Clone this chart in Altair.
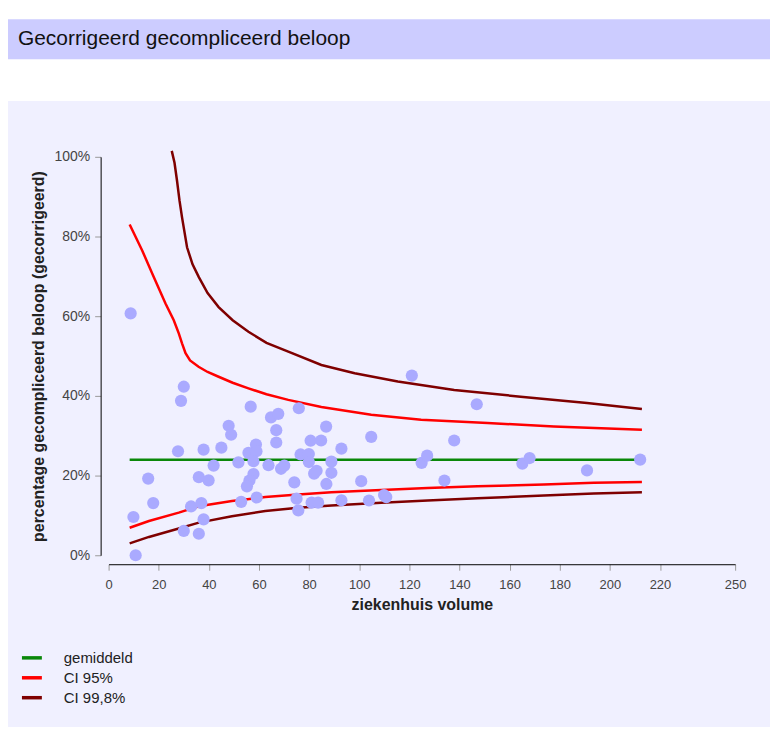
import altair as alt
import pandas as pd

# ---------------- data ----------------
title_text = "Gecorrigeerd gecompliceerd beloop"
x_title = "ziekenhuis volume"
y_title = "percentage gecompliceerd beloop (gecorrigeerd)"
x_ticks = [0, 20, 40, 60, 80, 100, 120, 140, 160, 180, 200, 220, 250]
y_ticks = [0, 0.2, 0.4, 0.6, 0.8, 1.0]

series_names = ["gemiddeld", "CI 95%", "CI 99,8%"]
series_colors = ["#0a870a", "#ff0000", "#7f0000"]

mean_x = [8.4, 212.8]
mean_y = [24.0, 24.0]

ci95_up_x = [8.4, 13.4, 17.4, 22.7, 26.0, 28.0, 29.3, 30.7, 32.5, 35.9, 39.5, 43.9,
             49.5, 55.8, 63.0, 71.7, 84.9, 104.8, 124.7, 151.2, 177.7, 212.8]
ci95_up_y = [83.0, 76.5, 70.7, 63.2, 59.0, 55.7, 53.2, 50.7, 48.9, 47.3, 46.0, 44.8,
             43.3, 41.9, 40.4, 39.0, 37.2, 35.25, 34.0, 33.2, 32.3, 31.5]

ci95_lo_x = [8.4, 16.1, 28.0, 36.0, 49.2, 62.5, 75.7, 88.9, 108.8, 127.3, 147.2,
             173.7, 193.6, 212.8]
ci95_lo_y = [6.9, 8.6, 10.7, 12.3, 13.6, 14.6, 15.25, 15.8, 16.4, 16.9, 17.3,
             17.75, 18.2, 18.4]

ci998_up_x = [25.2, 26.3, 27.3, 28.3, 29.3, 31.3, 33.5, 36.0, 39.5, 43.9, 49.5, 55.8,
              63.0, 71.7, 84.9, 98.2, 115.4, 137.9, 164.4, 190.9, 212.8]
ci998_up_y = [101.5, 98.5, 94.0, 89.0, 84.8, 77.3, 73.0, 69.8, 65.8, 62.3, 59.0, 56.1,
              53.3, 51.1, 47.75, 45.7, 43.6, 41.5, 39.8, 38.2, 36.7]

ci998_lo_x = [8.4, 16.1, 28.0, 36.0, 49.2, 62.5, 75.7, 88.9, 108.8, 127.3, 147.2,
              173.7, 193.6, 212.8]
ci998_lo_y = [3.0, 4.6, 6.7, 8.2, 9.8, 11.1, 11.9, 12.5, 13.2, 13.75, 14.3,
              15.0, 15.5, 15.8]

hosp_volume = [8.8, 30.0, 28.9, 27.7, 15.8, 17.8, 9.9, 10.8, 32.9, 30.0, 36.0,
               56.7, 75.9, 64.8, 67.7, 47.9, 48.9, 66.9, 86.8, 66.9, 80.6, 84.8,
               92.9, 37.9, 45.0, 58.8, 55.8, 59.0, 57.8, 51.8, 41.9, 63.8, 68.8,
               70.1, 76.6, 79.9, 79.9, 88.9, 82.0, 83.0, 88.9, 57.8, 56.2, 55.2,
               36.0, 39.9, 74.1, 86.9, 37.0, 37.9, 52.9, 59.1, 75.0, 75.7, 81.0,
               83.6, 92.9, 121.0, 146.9, 104.8, 137.9, 100.8, 124.9, 127.1, 134.0,
               165.1, 168.0, 190.9, 212.1, 103.9, 109.9, 110.8]
hosp_pct = [60.7, 42.3, 38.75, 26.1, 19.25, 13.1, 9.6, 0.0, 12.25, 6.1, 5.4,
            37.3, 36.9, 34.6, 35.5, 32.5, 30.25, 31.4, 32.3, 28.3, 28.75, 28.8,
            26.75, 26.5, 27.0, 27.8, 25.7, 26.1, 23.6, 23.3, 22.5, 22.6, 21.7,
            22.5, 25.3, 25.4, 23.4, 23.5, 20.5, 21.2, 20.7, 20.4, 18.75, 17.3,
            19.6, 18.8, 18.3, 17.9, 13.1, 9.0, 13.4, 14.5, 14.2, 11.25, 13.2,
            13.2, 13.8, 45.1, 37.9, 29.7, 28.8, 18.6, 23.2, 25.0, 18.75,
            23.0, 24.4, 21.3, 24.0, 13.75, 15.1, 14.6]

# ---------------- tables ----------------
def part(name, bound, xs, ys):
    return pd.DataFrame({"volume": xs, "pct": [v / 100 for v in ys],
                         "series": name, "line": name + "-" + bound})

lines_df = pd.concat([
    part(series_names[0], "m", mean_x, mean_y),
    part(series_names[1], "up", ci95_up_x, ci95_up_y),
    part(series_names[1], "lo", ci95_lo_x, ci95_lo_y),
    part(series_names[2], "up", ci998_up_x, ci998_up_y),
    part(series_names[2], "lo", ci998_lo_x, ci998_lo_y),
], ignore_index=True)

points_df = pd.DataFrame({"volume": hosp_volume, "pct": [v / 100 for v in hosp_pct]})
one = pd.DataFrame({"k": [0]})

# ---------------- chart ----------------
xs = alt.Scale(domain=[0, 250], nice=False, zero=False)
ys = alt.Scale(domain=[0, 1], nice=False)

x_axis = alt.Axis(values=x_ticks, title=x_title, grid=False, offset=9, zindex=1,
                  domainColor="#000000", tickColor="#999999", tickSize=6,
                  labelFont="Liberation Sans", labelFontSize=13, labelColor="#444444",
                  labelPadding=8, titleFont="Liberation Sans", titleFontSize=16,
                  titleFontWeight="bold", titleColor="#222222", titlePadding=5,
                  labelFlush=False)
y_axis = alt.Axis(values=y_ticks, format="%", title=y_title, grid=False, offset=8,
                  zindex=1,
                  domainColor="#000000", tickColor="#999999", tickSize=6,
                  labelFont="Liberation Sans", labelFontSize=14, labelColor="#444444",
                  labelPadding=5, titleFont="Liberation Sans", titleFontSize=16,
                  titleFontWeight="bold", titleColor="#222222", titlePadding=8,
                  labelFlush=False)

panel = alt.Chart(one).mark_rect(color="#f0f0ff").encode(
    x=alt.value(-101), x2=alt.value(664), y=alt.value(-56), y2=alt.value(590))
bar = alt.Chart(one).mark_rect(color="#ccccff").encode(
    x=alt.value(-101), x2=alt.value(664), y=alt.value(-138), y2=alt.value(-98))
head = alt.Chart(one).mark_text(text=title_text, align="left", baseline="middle",
                                font="Liberation Sans", fontSize=21,
                                color="#111111").encode(
    x=alt.value(-91), y=alt.value(-118))

lines = alt.Chart(lines_df).mark_line(strokeWidth=2.5).encode(
    x=alt.X("volume:Q", scale=xs, axis=x_axis),
    y=alt.Y("pct:Q", scale=ys, axis=y_axis),
    color=alt.Color("series:N",
                    scale=alt.Scale(domain=series_names, range=series_colors),
                    sort=series_names,
                    legend=alt.Legend(title=None, orient="none", legendX=-89,
                                      legendY=491, symbolType="stroke",
                                      symbolSize=400, symbolStrokeWidth=3.5,
                                      labelOffset=20, rowPadding=0, padding=0,
                                      labelFont="Liberation Sans", labelFontSize=15,
                                      labelColor="#222222")),
    detail="line:N",
)

points = alt.Chart(points_df).mark_circle(size=150, opacity=1, color="#aaaaff").encode(
    x=alt.X("volume:Q", scale=xs),
    y=alt.Y("pct:Q", scale=ys),
)

chart = alt.layer(panel, bar, head, lines, points).properties(
    width=629, height=400,
    autosize=alt.AutoSizeParams(type="none"),
    padding={"left": 101, "top": 148, "right": 35, "bottom": 171},
    background="#ffffff",
).configure_view(strokeWidth=0)

chart.save("out.html", embed_options={"renderer": "svg", "actions": False})
